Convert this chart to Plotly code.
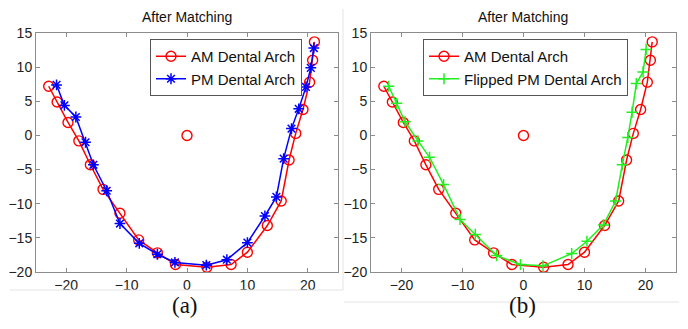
import plotly.graph_objects as go
from plotly.subplots import make_subplots

# ---- data ----
am_x = [-22.9, -21.5, -19.7, -17.9, -16.0, -13.9, -11.1, -8.0, -4.9, -1.9, 3.3, 7.3, 10.0, 13.3, 15.6, 16.9, 18.0, 19.2, 20.3, 20.8, 21.1]
am_y = [7.2, 4.9, 1.9, -0.8, -4.3, -7.9, -11.4, -15.3, -17.2, -18.9, -19.3, -18.9, -17.1, -13.2, -9.6, -3.6, 0.3, 3.8, 7.8, 11.0, 13.7]
pm_x = [-21.6, -20.3, -18.4, -16.8, -15.5, -13.3, -11.1, -7.9, -4.9, -2.0, 3.2, 6.6, 10.0, 12.9, 14.8, 16.0, 17.3, 18.5, 19.7, 20.5, 21.0]
pm_y = [7.4, 4.4, 2.7, -1.0, -4.3, -8.1, -12.9, -15.8, -17.4, -18.6, -19.0, -18.2, -15.7, -11.8, -9.0, -3.4, 1.0, 3.9, 7.1, 9.9, 12.8]
flip_x = [-22.1, -20.8, -19.4, -17.3, -15.4, -13.1, -10.4, -7.9, -4.4, -0.5, 3.2, 7.9, 10.4, 13.1, 15.1, 16.2, 17.1, 17.8, 18.5, 19.6, 20.1]
flip_y = [7.2, 4.7, 2.0, -0.8, -3.2, -7.2, -12.3, -14.5, -17.6, -18.9, -19.1, -17.3, -15.5, -13.1, -9.6, -4.3, -0.3, 3.4, 7.6, 9.3, 12.6]
center_x = [0]
center_y = [0]

x_ticks = [-20, -10, 0, 10, 20]
y_ticks = [-20, -15, -10, -5, 0, 5, 10, 15]

RED = "#ff0000"
BLUE = "#0000ff"
GREEN = "#22ee22"

# page body has an 8px margin; lay out in window pixels and convert
OFF = 8
W, H = 688 - 2 * OFF, 329 - 2 * OFF


def px(x):
    return (x - OFF) / W


def py(y):
    return 1 - (y - OFF) / H


fig = make_subplots(rows=1, cols=2)

circle = dict(symbol="circle-open", size=10, color=RED, line=dict(width=1.4, color=RED))

fig.add_trace(go.Scatter(x=am_x, y=am_y, mode="lines+markers", name="AM Dental Arch",
                         line=dict(color=RED, width=1.5), marker=circle, legend="legend"), 1, 1)
fig.add_trace(go.Scatter(x=pm_x, y=pm_y, mode="lines+markers", name="PM Dental Arch",
                         line=dict(color=BLUE, width=1.5),
                         marker=dict(symbol="asterisk-open", size=9, color=BLUE, line=dict(width=1.5, color=BLUE)),
                         legend="legend"), 1, 1)
fig.add_trace(go.Scatter(x=center_x, y=center_y, mode="markers", marker=circle, showlegend=False), 1, 1)

fig.add_trace(go.Scatter(x=am_x, y=am_y, mode="lines+markers", name="AM Dental Arch",
                         line=dict(color=RED, width=1.5), marker=circle, legend="legend2"), 1, 2)
fig.add_trace(go.Scatter(x=flip_x, y=flip_y, mode="lines+markers", name="Flipped PM Dental Arch",
                         line=dict(color=GREEN, width=1.5),
                         marker=dict(symbol="cross-thin-open", size=8, color=GREEN, line=dict(width=1.5, color=GREEN)),
                         legend="legend2"), 1, 2)
fig.add_trace(go.Scatter(x=center_x, y=center_y, mode="markers", marker=circle, showlegend=False), 1, 2)

ax_common = dict(showgrid=False, zeroline=False, showline=True, linecolor="#8c8c8c", linewidth=1,
                 mirror="allticks", ticks="inside", ticklen=4, tickcolor="#8c8c8c", automargin=False,
                 tickfont=dict(family="Arial, Liberation Sans, sans-serif", size=14, color="#222222"))

fig.update_layout(
    xaxis=dict(domain=[px(36), px(338)], range=[-25, 25], tickvals=x_ticks, **ax_common),
    xaxis2=dict(domain=[px(371), px(676)], range=[-25, 25], tickvals=x_ticks, **ax_common),
    yaxis=dict(domain=[py(272), py(33)], range=[-20, 15], tickvals=y_ticks, **ax_common),
    yaxis2=dict(domain=[py(272), py(33)], range=[-20, 15], tickvals=y_ticks, **ax_common),
)

legend_common = dict(bgcolor="white", bordercolor="#555555", borderwidth=1,
                     font=dict(family="Arial, Liberation Sans, sans-serif", size=15, color="#111111"),
                     yanchor="top", xanchor="right", tracegroupgap=0, itemwidth=30)
fig.update_layout(
    legend=dict(x=px(302), y=py(39), **legend_common),
    legend2=dict(x=px(628), y=py(39), **legend_common),
)

title_font = dict(family="Arial, Liberation Sans, sans-serif", size=14, color="#111111")
for cx in (187, 523):
    fig.add_annotation(text="After Matching", x=px(cx), y=py(17), xref="paper", yref="paper",
                       xanchor="center", yanchor="middle", showarrow=False, font=title_font)

label_font = dict(family="Liberation Serif, Times New Roman, serif", size=23, color="#111111")
for txt, cx in (("(a)", 185), ("(b)", 522)):
    fig.add_annotation(text=txt, x=px(cx), y=py(305), xref="paper", yref="paper",
                       xanchor="center", yanchor="middle", showarrow=False, font=label_font)

# faint panel borders of the original figure images
fig.add_shape(type="line", xref="paper", yref="paper", x0=px(10), x1=px(343), y0=py(290), y1=py(290),
              line=dict(color="#e4e4e4", width=1))
fig.add_shape(type="line", xref="paper", yref="paper", x0=px(343), x1=px(343), y0=py(290), y1=py(9),
              line=dict(color="#e4e4e4", width=1))
fig.add_shape(type="line", xref="paper", yref="paper", x0=px(344), x1=px(679), y0=py(302), y1=py(302),
              line=dict(color="#e4e4e4", width=1))

fig.update_layout(width=W, height=H, margin=dict(l=0, r=0, t=0, b=0, autoexpand=False),
                  paper_bgcolor="white", plot_bgcolor="white")

fig.write_html("out.html")
